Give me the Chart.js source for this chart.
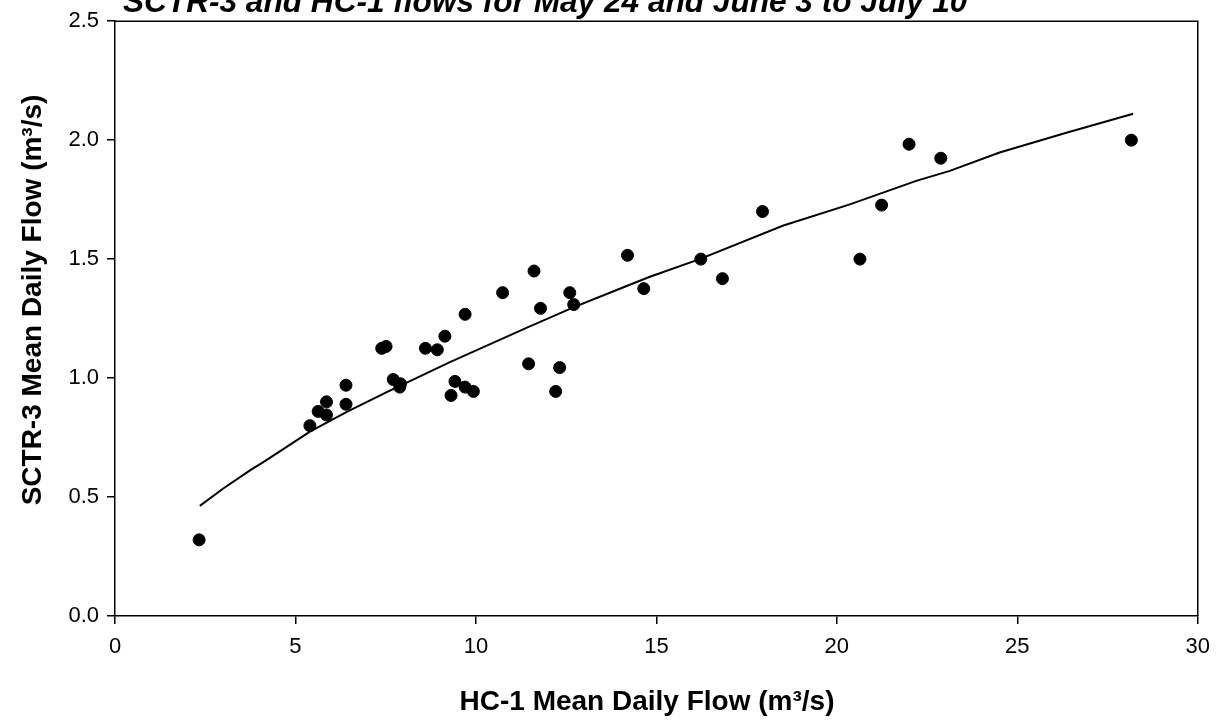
<!DOCTYPE html>
<html>
<head>
<meta charset="utf-8">
<script src="https://cdn.jsdelivr.net/npm/chart.js@4/dist/chart.umd.min.js"></script>
<style>
  body { margin: 0; background: #fff; }
  #wrap { width: 1220px; height: 723px; }
</style>
</head>
<body>
<div id="wrap"><canvas id="grafico" width="1220" height="723"></canvas></div>
<script>
const hc1Flow = [2.33, 5.40, 5.63, 5.86, 5.86, 6.40, 6.40, 7.39, 7.51, 7.71,
  7.91, 7.89, 8.60, 8.93, 9.14, 9.70, 9.31, 9.42, 9.70, 9.93,
  10.74, 11.61, 11.79, 11.46, 12.32, 12.21, 12.60, 12.71, 14.20, 14.65,
  16.23, 16.83, 17.94, 20.64, 21.24, 22.00, 22.88, 28.16];
const sctr3Flow = [0.32, 0.80, 0.86, 0.845, 0.90, 0.97, 0.89, 1.125, 1.133, 0.994,
  0.976, 0.962, 1.125, 1.119, 1.176, 1.268, 0.927, 0.986, 0.962, 0.944,
  1.359, 1.450, 1.293, 1.060, 1.044, 0.944, 1.359, 1.309, 1.516, 1.376,
  1.500, 1.418, 1.700, 1.500, 1.727, 1.983, 1.924, 2.000];

// fitted curve
const fitX = [2.35, 3.0, 3.74, 4.11, 5.0, 5.4, 6.45, 7.53, 9.28, 11.40,
  12.70, 13.90, 14.82, 16.2, 18.5, 20.36, 22.2, 23.13, 24.51, 26.36, 28.21];
const fitY = [0.463, 0.536, 0.612, 0.647, 0.735, 0.775, 0.860, 0.941, 1.067, 1.211,
  1.297, 1.370, 1.426, 1.500, 1.640, 1.730, 1.829, 1.871, 1.948, 2.031, 2.111];

const titulo = 'SCTR-3 and HC-1 flows for May 24 and June 3 to July 10';
const tituloX = 'HC-1 Mean Daily Flow (m\u00B3/s)';
const tituloY = 'SCTR-3 Mean Daily Flow (m\u00B3/s)';

const FONTE = '"Liberation Sans", Arial, sans-serif';

// titles drawn by hand: the top one is cut off at the edge in the original
const molduraPlugin = {
  id: 'moldura',
  afterDraw(chart) {
    const { ctx, chartArea } = chart;
    ctx.save();
    ctx.strokeStyle = '#000';
    ctx.lineWidth = 1.5;
    ctx.beginPath();
    ctx.moveTo(chartArea.left, chartArea.top);
    ctx.lineTo(chartArea.right, chartArea.top);
    ctx.lineTo(chartArea.right, chartArea.bottom);
    ctx.stroke();

    ctx.fillStyle = '#000';
    ctx.font = 'italic bold 31.6px ' + FONTE;
    ctx.textAlign = 'left';
    ctx.textBaseline = 'alphabetic';
    ctx.fillText(titulo, 123, 12);

    ctx.font = 'bold 28px ' + FONTE;
    ctx.textAlign = 'center';
    ctx.textBaseline = 'middle';
    ctx.fillText(tituloX, 647, 702);

    ctx.translate(33, 300);
    ctx.rotate(-Math.PI / 2);
    ctx.fillText(tituloY, 0, 0);
    ctx.restore();
  }
};

new Chart(document.getElementById('grafico'), {
  type: 'scatter',
  data: {
    datasets: [
      {
        label: 'pontos',
        data: hc1Flow.map((x, i) => ({ x, y: sctr3Flow[i] })),
        backgroundColor: '#000',
        borderColor: '#000',
        pointRadius: 6,
        pointHoverRadius: 6,
        order: 1
      },
      {
        label: 'ajuste',
        data: fitX.map((x, i) => ({ x, y: fitY[i] })),
        showLine: true,
        borderColor: '#000',
        borderWidth: 2,
        pointRadius: 0,
        fill: false,
        tension: 0,
        order: 2
      }
    ]
  },
  options: {
    responsive: false,
    animation: false,
    layout: { padding: { top: 20, right: 22, left: 0, bottom: 0 } },
    plugins: {
      legend: { display: false },
      tooltip: { enabled: false }
    },
    scales: {
      x: {
        type: 'linear',
        min: 0,
        max: 30,
        afterFit: s => { s.height = 107; },
        border: { display: true, color: '#000', width: 1.5 },
        grid: { drawOnChartArea: false, drawTicks: true, tickLength: 8, color: '#000', lineWidth: 1.5 },
        ticks: { stepSize: 5, color: '#000', padding: 10, maxRotation: 0, font: { family: FONTE, size: 22 } }
      },
      y: {
        type: 'linear',
        min: 0,
        max: 2.5,
        afterFit: s => { s.width = 115; },
        border: { display: true, color: '#000', width: 1.5 },
        grid: { drawOnChartArea: false, drawTicks: true, tickLength: 8, color: '#000', lineWidth: 1.5 },
        ticks: { stepSize: 0.5, color: '#000', padding: 8, font: { family: FONTE, size: 22 }, callback: v => v.toFixed(1) }
      }
    }
  },
  plugins: [molduraPlugin]
});
</script>
</body>
</html>
